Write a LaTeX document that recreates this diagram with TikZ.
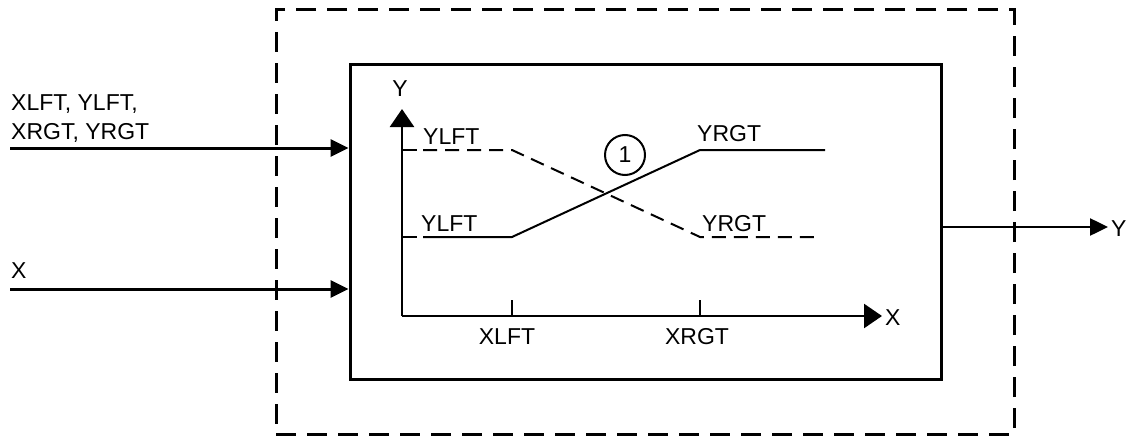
\documentclass[tikz,border=0pt]{standalone}
\usepackage{fontspec}
\setmainfont{Liberation Sans}
\usetikzlibrary{arrows.meta, positioning, calc}

\begin{document}
\begin{tikzpicture}[
    x=1pt, y=-1pt,
    every node/.style={font=\fontsize{23}{29}\selectfont, inner sep=0pt},
    outerbox/.style={draw, line width=3pt, dash pattern=on 20pt off 11pt, minimum width=738pt, minimum height=424pt},
    innerbox/.style={draw, line width=3pt, minimum width=591pt, minimum height=314pt},
    sig/.style={-{Triangle[length=18pt, width=17pt]}, line width=3pt},
    axis/.style={-{Triangle[length=18pt, width=24pt]}, line width=2.5pt},
    curve/.style={line width=2pt},
    tick/.style={line width=2.5pt},
    lbl/.style={anchor=base west},
]
    \useasboundingbox (0,0) rectangle (1127,436);

    % Block and dashed boundary
    \node[outerbox] (outer) at (645,222) {};
    \node[innerbox] (blk) at (645.5,222) {};

    % Inputs
    \coordinate (par) at (10,148);
    \coordinate (xin) at (10,289);
    \draw[sig] (par) -- (par -| blk.west);
    \draw[sig] (xin) -- (xin -| blk.west);
    \node[anchor=south west, align=left] (parlbl) at (11,143) {XLFT, YLFT,\\XRGT, YRGT};
    \node[lbl] (xlbl) at (11,278) {X};

    % Output
    \coordinate (yout) at (1108,227);
    \draw[sig, line width=2.5pt] (yout -| blk.east) -- (yout);
    \node[anchor=west] (ylbl) at (1111,229) {Y};

    % Axes
    \coordinate (orig) at (402,316);
    \coordinate (ytip) at (402,109);
    \coordinate (xtip) at (882,316);
    \draw[axis] (orig) -- (ytip);
    \draw[axis] (orig) -- (xtip);
    \node (yax) at (400,89) {Y};
    \node[anchor=west] (xax) at (885,318) {X};

    % Ticks
    \coordinate (ylo) at (402,237);
    \coordinate (yhi) at (402,150);
    \coordinate (xl) at (512,316);
    \coordinate (xr) at (700,316);
    \draw[tick] (ylo) -- ++(15,0);
    \draw[tick] (yhi) -- ++(15,0);
    \draw[tick] (xl) -- ++(0,-16);
    \draw[tick] (xr) -- ++(0,-16);
    \node (xllbl) at (507,337) {XLFT};
    \node (xrlbl) at (697,337) {XRGT};

    % Rising curve
    \draw[curve] (423,237) -- (xl |- ylo) -- (xr |- yhi) -- (825,150);
    % Falling curve
    \draw[curve, dash pattern=on 14pt off 8pt] (423,150) -- (xl |- yhi) -- (xr |- ylo) -- (815,237);

    % Curve labels
    \node[lbl] (yl1) at (423,144) {YLFT};
    \node[lbl] (yl2) at (421,231) {YLFT};
    \node[lbl] (yr1) at (697,141) {YRGT};
    \node[lbl] (yr2) at (702,231) {YRGT};
    \node[draw, circle, line width=2pt, minimum size=40pt] (num) at (625,155) {1};
\end{tikzpicture}
\end{document}
